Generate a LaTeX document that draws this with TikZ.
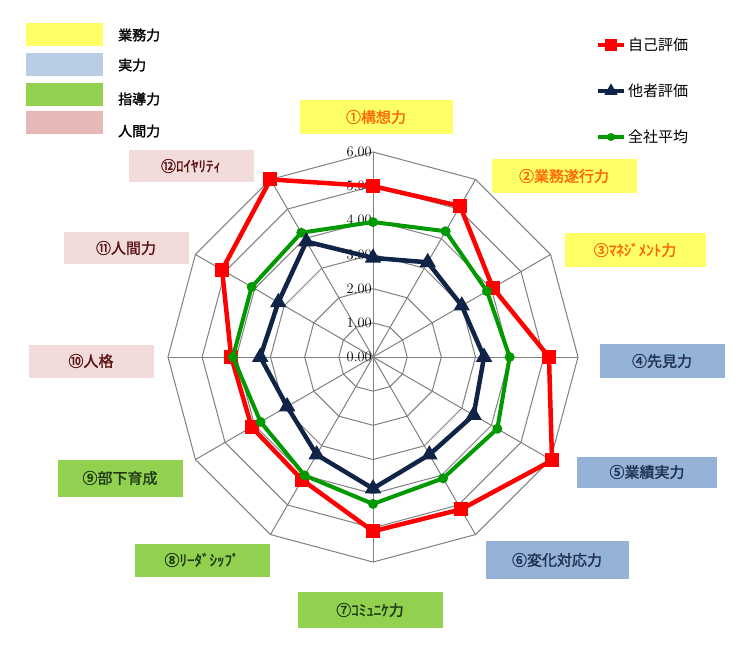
\documentclass[tikz,border=0pt]{standalone}
\usepackage{fontspec}
\setmainfont{Noto Sans CJK JP}
\newfontfamily\jb{Noto Sans CJK JP}[FakeBold=1.6]
\newfontfamily\numf{Liberation Sans}[FakeStretch=0.85]
\usetikzlibrary{shapes.geometric}
\begin{document}
\begin{tikzpicture}[x=1pt,y=-1pt,
  lbl/.style={minimum width=#1,minimum height=34pt,inner sep=0pt,font=\jb\fontsize{15}{15}\selectfont},
  sw/.style={minimum width=77pt,minimum height=23pt,inner sep=0pt},
  lt/.style={anchor=west,inner sep=0pt,font=\jb\fontsize{14}{14}\selectfont},
  rt/.style={anchor=west,inner sep=0pt,font=\fontsize{15}{15}\selectfont},
  gl/.style={anchor=east,inner sep=1pt,font=\numf\fontsize{14}{14}\selectfont},
  grid/.style={draw=gray,line width=1pt},
  redm/.style={fill=red,minimum size=14pt,inner sep=0pt},
  navm/.style={fill=navy,regular polygon,regular polygon sides=3,minimum size=19pt,inner sep=0pt},
  grnm/.style={fill=grn,circle,minimum size=10pt,inner sep=0pt}]
\definecolor{ylw}{HTML}{FFFF66}
\definecolor{blu}{HTML}{95B3D7}
\definecolor{lblu}{HTML}{B9CDE5}
\definecolor{lgr}{HTML}{92D050}
\definecolor{pnk}{HTML}{E6B9B8}
\definecolor{lpnk}{HTML}{F2DCDB}
\definecolor{navy}{HTML}{0F2446}
\definecolor{grn}{HTML}{009900}
\definecolor{org}{HTML}{FF6600}
\definecolor{tnav}{HTML}{1F3054}
\definecolor{tgr}{HTML}{1E3A14}
\definecolor{tmar}{HTML}{5A1414}
\useasboundingbox (0,0) rectangle (750,648);
\fill[white] (0,0) rectangle (750,648);
% legend swatches
\node[sw,fill=ylw] (s1) at (64,34) {};
\node[sw,fill=lblu] (s2) at (64,64) {};
\node[sw,fill=lgr] (s3) at (64,94) {};
\node[sw,fill=pnk] (s4) at (64,122) {};
\node[lt] (t1) at (118,35) {業務力};
\node[lt] (t2) at (118,65) {実力};
\node[lt] (t3) at (118,99) {指導力};
\node[lt] (t4) at (118,131) {人間力};
% grid
\begin{scope}[shift={(373,357)}]
\foreach \k in {1,...,6}{
  \draw[grid] (-90:{34.17*\k}) \foreach \i in {1,...,11}{ -- ({-90+30*\i}:{34.17*\k}) } -- cycle;
}
\foreach \i in {0,...,11} \draw[grid] (0,0) -- ({-90+30*\i}:205);
\foreach \k in {0,...,6} \node[gl] (g\k) at (0,{-34.17*\k}) {\pgfmathprintnumber[fixed,fixed zerofill,precision=2]{\k}};
% series
\def\red{5.0,5.1,4.05,5.15,6.05,5.15,5.1,4.15,4.1,4.15,5.1,6.0}
\def\nav{2.9,3.2,3.0,3.25,3.4,3.3,3.85,3.3,2.9,3.3,3.2,3.9}
\def\grn{3.95,4.25,3.85,4.0,4.2,4.1,4.3,4.0,3.8,4.1,4.1,4.2}
\foreach \v [count=\i from 0] in \red \coordinate (r\i) at ({-90+30*\i}:{34.17*\v});
\foreach \v [count=\i from 0] in \nav \coordinate (n\i) at ({-90+30*\i}:{34.17*\v});
\foreach \v [count=\i from 0] in \grn \coordinate (q\i) at ({-90+30*\i}:{34.17*\v});
\draw[red,line width=4.5pt,line join=round] (r0) \foreach \i in {1,...,11}{ -- (r\i)} -- cycle;
\foreach \i in {0,...,11} \node[redm] at (r\i) {};
\draw[grn,line width=4pt,line join=round] (q0) \foreach \i in {1,...,11}{ -- (q\i)} -- cycle;
\foreach \i in {0,...,11} \node[grnm] at (q\i) {};
\draw[navy,line width=4.5pt,line join=round] (n0) \foreach \i in {1,...,11}{ -- (n\i)} -- cycle;
\foreach \i in {0,...,11} \node[navm] at (n\i) {};
\end{scope}
% right legend
\foreach \y/\c/\m/\t [count=\j] in {45/red/redm/自己評価,91/navy/navm/他者評価,137/grn/grnm/全社平均}{
  \coordinate (la\j) at (598,\y); \coordinate (lb\j) at (624,\y);
  \draw[\c,line width=4pt] (la\j) -- (lb\j);
  \node[\m,scale=0.8] at (611,\y) {};
  \node[rt] (lt\j) at (628,\y) {\t};
}
% axis labels
\node[lbl=153pt,fill=ylw,text=org] (a1) at (376,117) {①構想力};
\node[lbl=145pt,fill=ylw,text=org] (a2) at (564,176) {②業務遂行力};
\node[lbl=141pt,fill=ylw,text=org] (a3) at (635,250) {③ﾏﾈｼﾞﾒﾝﾄ力};
\node[lbl=125pt,fill=blu,text=tnav] (a4) at (662,361) {④先見力};
\node[lbl=140pt,fill=blu,text=tnav,minimum height=31pt] (a5) at (647,472) {⑤業績実力};
\node[lbl=143pt,fill=blu,text=tnav,minimum height=38pt] (a6) at (557,560) {⑥変化対応力};
\node[lbl=145pt,fill=lgr,text=tgr,minimum height=36pt] (a7) at (370,610) {⑦ｺﾐｭﾆｹ力};
\node[lbl=135pt,fill=lgr,text=tgr,minimum height=33pt] (a8) at (202,560) {⑧ﾘｰﾀﾞｼｯﾌﾟ};
\node[lbl=125pt,fill=lgr,text=tgr,minimum height=37pt] (a9) at (120,478) {⑨部下育成};
\node[lbl=125pt,fill=lpnk,text=tmar,minimum height=33pt] (a10) at (91,361) {⑩人格};
\node[lbl=125pt,fill=lpnk,text=tmar,minimum height=32pt] (a11) at (126,248) {⑪人間力};
\node[lbl=125pt,fill=lpnk,text=tmar,minimum height=32pt] (a12) at (191,166) {⑫ﾛｲﾔﾘﾃｨ};
\end{tikzpicture}
\end{document}
